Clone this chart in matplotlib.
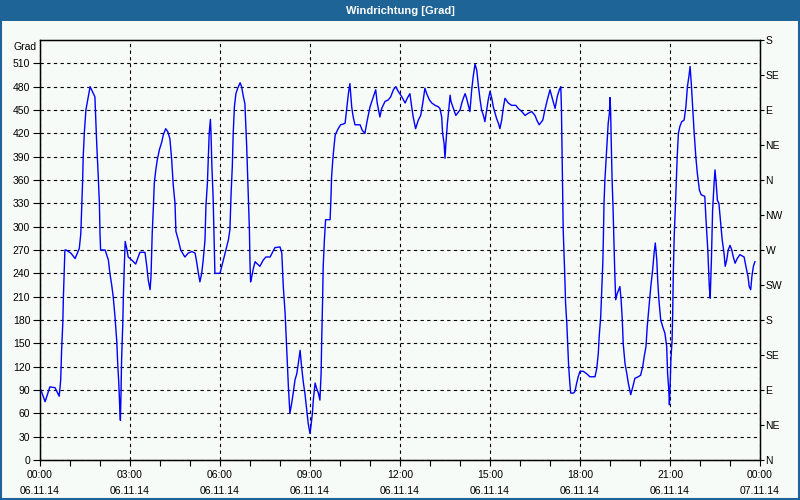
import matplotlib
matplotlib.use("Agg")
import matplotlib.pyplot as plt
from matplotlib.patches import Rectangle
from matplotlib.ticker import MultipleLocator

plt.rcParams['font.family'] = ['Liberation Sans', 'DejaVu Sans']

# ---- data: time of day (hours since 06.11.14 00:00) and wind direction (degrees, unwrapped)
hours = [
    0.03, 0.17, 0.33, 0.50, 0.64, 0.69, 0.72, 0.76, 0.78, 0.83, 0.87, 1.03, 1.17, 1.31, 1.36, 1.39, 1.42, 1.44,
    1.48, 1.53, 1.61, 1.67, 1.72, 1.83, 1.89, 1.94, 1.98, 2.00, 2.02, 2.17, 2.28, 2.33, 2.39, 2.44, 2.50, 2.56,
    2.59, 2.63, 2.66, 2.68, 2.70, 2.72, 2.76, 2.78, 2.81, 2.84, 2.89, 2.94, 3.06, 3.19, 3.33, 3.50, 3.56, 3.61,
    3.67, 3.70, 3.74, 3.78, 3.81, 3.86, 3.91, 3.98, 4.06, 4.11, 4.19, 4.26, 4.33, 4.39, 4.44, 4.50, 4.53, 4.61,
    4.69, 4.83, 4.94, 5.06, 5.17, 5.22, 5.28, 5.33, 5.39, 5.44, 5.50, 5.53, 5.58, 5.61, 5.64, 5.68, 5.70, 5.73,
    5.77, 5.80, 5.83, 5.89, 6.00, 6.06, 6.11, 6.17, 6.22, 6.28, 6.33, 6.37, 6.41, 6.44, 6.48, 6.53, 6.59, 6.67,
    6.72, 6.78, 6.83, 6.89, 6.94, 6.98, 7.00, 7.02, 7.06, 7.11, 7.17, 7.22, 7.33, 7.44, 7.53, 7.67,
    7.83, 8.00, 8.06, 8.11, 8.17, 8.22, 8.28, 8.33, 8.39, 8.44, 8.50, 8.56, 8.61, 8.67, 8.72, 8.78, 8.83, 8.89,
    8.94, 9.00, 9.03, 9.08, 9.11, 9.17, 9.22, 9.28, 9.33, 9.37, 9.39, 9.42, 9.44, 9.48, 9.52, 9.67, 9.70, 9.72,
    9.76, 9.80, 9.84, 9.89, 9.94, 10.02, 10.11, 10.17, 10.22, 10.28, 10.33, 10.39, 10.44, 10.50, 10.61, 10.67,
    10.74, 10.83, 10.91, 11.00, 11.11, 11.19, 11.24, 11.33, 11.39, 11.50, 11.61, 11.69, 11.78, 11.86, 11.94,
    12.06, 12.17, 12.24, 12.33, 12.39, 12.44, 12.52, 12.61, 12.69, 12.76, 12.83, 12.89, 12.98, 13.06, 13.17,
    13.28, 13.33, 13.39, 13.42, 13.47, 13.50, 13.53, 13.58, 13.62, 13.67, 13.70, 13.78, 13.86, 13.92, 14.00,
    14.06, 14.11, 14.17, 14.22, 14.28, 14.33, 14.39, 14.44, 14.50, 14.56, 14.61, 14.67, 14.72, 14.78, 14.83,
    14.89, 14.94, 15.00, 15.06, 15.11, 15.17, 15.22, 15.28, 15.33, 15.39, 15.44, 15.50, 15.61, 15.72, 15.86,
    15.94, 16.06, 16.17, 16.28, 16.39, 16.50, 16.56, 16.64,
    16.76, 16.83, 16.91, 17.00, 17.09, 17.17, 17.24, 17.31, 17.36, 17.38, 17.40, 17.42, 17.44, 17.49, 17.52,
    17.56, 17.59, 17.62, 17.66, 17.69, 17.78, 17.83, 17.89, 17.94, 18.00, 18.11, 18.22, 18.33, 18.50, 18.56,
    18.61, 18.64, 18.69, 18.72, 18.76, 18.78, 18.80, 18.83, 18.87, 18.91, 18.94, 18.98, 19.00, 19.02, 19.04,
    19.07, 19.10, 19.13, 19.16, 19.19, 19.24, 19.29, 19.33, 19.37, 19.41, 19.44, 19.50, 19.56, 19.61, 19.69,
    19.76, 19.83, 19.94, 20.02, 20.09, 20.14, 20.20, 20.24, 20.30, 20.36, 20.42, 20.47, 20.51, 20.56, 20.59,
    20.63, 20.69, 20.76, 20.83, 20.89, 20.92, 20.96, 20.98, 21.00, 21.03, 21.07, 21.09, 21.11, 21.14, 21.18,
    21.21, 21.24, 21.28, 21.33, 21.39, 21.47, 21.53, 21.58, 21.63, 21.67, 21.71, 21.76, 21.80, 21.86, 21.91,
    21.98, 22.04, 22.16, 22.20, 22.26, 22.31, 22.34, 22.38, 22.42, 22.47, 22.50, 22.53, 22.58, 22.63, 22.69,
    22.74, 22.80, 22.84, 22.89, 22.94, 23.00, 23.06, 23.11, 23.17, 23.24, 23.33, 23.47, 23.53, 23.60, 23.64,
    23.69, 23.73, 23.78, 23.83,
]
direction = [
    90, 75, 94, 93, 82, 103, 141, 176, 210, 270, 270, 266, 259, 272, 291, 326, 358, 390,
    422, 450, 467, 480, 476, 467, 407, 366, 330, 291, 270, 270, 257, 240, 225, 210, 184, 152,
    124, 96, 66, 51, 86, 129, 176, 212, 249, 281, 272, 261, 257, 252, 267, 267, 249, 231,
    219, 236, 291, 326, 356, 373, 386, 399, 409, 418, 426, 422, 413, 386, 354, 330, 294, 283,
    270, 261, 266, 268, 266, 255, 240, 229, 240, 257, 283, 326, 356, 388, 420, 438, 420, 377,
    339, 291, 240, 240, 240, 249, 257, 266, 274, 283, 296, 343, 377, 420, 454, 471, 478, 485,
    480, 467, 458, 403, 343, 296, 253, 229, 236, 246, 255, 253, 249, 257, 261, 261,
    273, 274, 266, 223, 189, 146, 94, 60, 73, 86, 103, 111, 124, 141, 120, 99, 86, 64,
    47, 34, 43, 60, 77, 99, 92, 86, 77, 111, 154, 206, 249, 283, 309, 309, 339, 364,
    386, 403, 418, 422, 426, 431, 432, 433, 450, 471, 484, 454, 441, 431, 431, 431,
    424, 420, 437, 454, 467, 476, 459, 441, 452, 461, 463, 467, 476, 480, 474,
    467, 459, 465, 471, 454, 441, 426, 437, 443, 459, 478, 471, 463, 459, 456,
    454, 452, 441, 420, 407, 388, 407, 433, 448, 469, 461, 452, 443, 446, 450,
    459, 465, 471, 465, 456, 448, 476, 493, 509, 501, 482, 463, 450, 443, 435,
    450, 463, 474, 465, 454, 446, 439, 433, 426, 437, 452, 465, 459, 456, 456,
    452, 448, 443, 446, 448, 443, 437, 431,
    437, 450, 463, 476, 463, 452, 467, 476, 480, 454, 403, 347, 296, 240, 201,
    176, 150, 122, 99, 86, 86, 88, 99, 107, 114, 114, 111, 107, 107, 118,
    137, 159, 184, 214, 253, 287, 330, 360, 386, 411, 433, 446, 466, 450, 411,
    360, 326, 283, 240, 206, 214, 219, 223, 206, 180, 150, 124, 111, 99, 84,
    94, 105, 107, 109, 120, 133, 146, 171, 197, 223, 244, 266, 279, 257, 231,
    206, 180, 171, 163, 146, 111, 90, 71, 90, 129, 154, 189, 240, 287, 326,
    360, 390, 420, 429, 435, 437, 454, 480, 493, 506, 484, 450, 424, 390, 369,
    347, 341, 339, 309, 270, 223, 208, 257, 321, 356, 373, 360, 334, 330, 304,
    283, 266, 249, 257, 270, 276, 270, 261, 253, 259, 264, 261, 249, 236,
    223, 219, 236, 249, 255,
]

x_ticks = [0, 3, 6, 9, 12, 15, 18, 21, 24]
x_labels = ["00:00\n06.11.14", "03:00\n06.11.14", "06:00\n06.11.14", "09:00\n06.11.14",
            "12:00\n06.11.14", "15:00\n06.11.14", "18:00\n06.11.14", "21:00\n06.11.14",
            "00:00\n07.11.14"]
y_ticks = list(range(0, 511, 30))
compass_ticks = list(range(0, 541, 45))
compass_labels = ["N", "NE", "E", "SE", "S", "SW", "W", "NW", "N", "NE", "E", "SE", "S"]

bg = '#F7FBF7'
blue_bar = '#1E6496'

fig = plt.figure(figsize=(8, 5), dpi=100, facecolor=bg)
ax = fig.add_axes([40/800, 40/500, 720/800, 420/500], facecolor=bg)

ax.plot(hours, direction, color='#0000FF', linewidth=1.0, zorder=3)

ax.set_xlim(0, 24)
ax.set_ylim(0, 540)
ax.set_xticks(x_ticks)
ax.set_xticklabels(x_labels, fontsize=7.5, linespacing=1.75)
ax.xaxis.set_minor_locator(MultipleLocator(1))
ax.set_yticks(y_ticks)
ax.set_yticklabels([str(v) for v in y_ticks], fontsize=7.5)

ax.grid(True, which='major', color='black', linestyle=(0, (3, 3)), linewidth=0.8)
ax.tick_params(axis='x', which='both', direction='out', length=4, width=0.8, pad=3)
ax.tick_params(axis='y', which='both', direction='out', length=5, width=0.8, pad=2)
for s in ax.spines.values():
    s.set_color('black')
    s.set_linewidth(1.0)

ax2 = ax.twinx()
ax2.set_ylim(0, 540)
ax2.set_yticks(compass_ticks)
ax2.set_yticklabels(compass_labels, fontsize=7.5)
ax2.tick_params(axis='y', direction='out', length=3, width=0.8, pad=1)

fig.text(37/800, 1 - 46.5/500, "Grad", ha='right', va='center', fontsize=7.5)

# title bar
fig.patches.append(Rectangle((0, 1 - 21/500), 1, 21/500, transform=fig.transFigure,
                             facecolor=blue_bar, edgecolor='none', zorder=0))
fig.text(0.5, 1 - 10.5/500, "Windrichtung [Grad]", ha='center', va='center',
         color='white', fontsize=8, fontweight='bold')
# outer frame
fig.patches.append(Rectangle((0.5/800, 1/500), 798.5/800, 498/500, transform=fig.transFigure,
                             facecolor='none', edgecolor=blue_bar, linewidth=1.5, zorder=0))

fig.savefig("out.png", dpi=100, facecolor=bg)
